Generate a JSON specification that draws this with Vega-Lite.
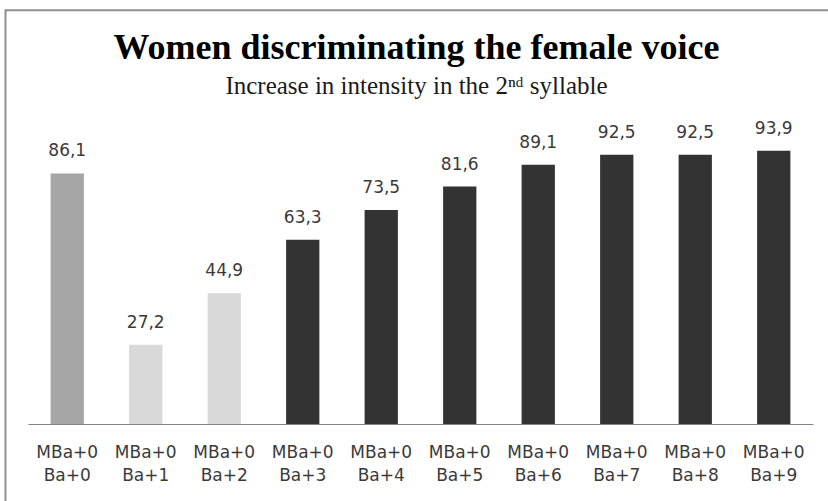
{
  "$schema": "https://vega.github.io/schema/vega-lite/v6.json",
  "width": 823,
  "height": 492,
  "autosize": {"type": "none"},
  "padding": {"left": 5, "top": 9, "right": 0, "bottom": 0},
  "background": "white",
  "title": {
    "text": "Women discriminating the female voice",
    "subtitle": "Increase in intensity in the 2ⁿᵈ syllable",
    "anchor": "middle",
    "frame": "group",
    "offset": -91,
    "font": "Liberation Serif",
    "fontSize": 36,
    "fontWeight": "bold",
    "color": "#000000",
    "subtitleFont": "Liberation Serif",
    "subtitleFontSize": 25,
    "subtitleColor": "#1a1a1a",
    "subtitlePadding": 7
  },
  "data": {
    "values": [
      {"condition": "MBa+0 Ba+0", "set": "reference", "score": 86.1},
      {"condition": "MBa+0 Ba+1", "set": "below", "score": 27.2},
      {"condition": "MBa+0 Ba+2", "set": "below", "score": 44.9},
      {"condition": "MBa+0 Ba+3", "set": "above", "score": 63.3},
      {"condition": "MBa+0 Ba+4", "set": "above", "score": 73.5},
      {"condition": "MBa+0 Ba+5", "set": "above", "score": 81.6},
      {"condition": "MBa+0 Ba+6", "set": "above", "score": 89.1},
      {"condition": "MBa+0 Ba+7", "set": "above", "score": 92.5},
      {"condition": "MBa+0 Ba+8", "set": "above", "score": 92.5},
      {"condition": "MBa+0 Ba+9", "set": "above", "score": 93.9}
    ]
  },
  "encoding": {
    "x": {
      "field": "condition",
      "type": "nominal",
      "sort": null,
      "scale": {"range": [23, 808], "paddingInner": 0.576, "paddingOuter": 0.288},
      "axis": {
        "title": null,
        "orient": "bottom",
        "offset": -77,
        "labelAngle": 0,
        "labelExpr": "split(datum.label, ' ')",
        "labelFont": "DejaVu Sans",
        "labelFontSize": 17,
        "labelColor": "#3a3a3a",
        "labelLineHeight": 23,
        "labelPadding": 20,
        "ticks": false,
        "domainColor": "#868686",
        "domainWidth": 1.2,
        "grid": false
      }
    },
    "y": {
      "field": "score",
      "type": "quantitative",
      "scale": {"domain": [-26.46, 142.6], "nice": false, "zero": false},
      "axis": {
        "title": null,
        "labels": false,
        "ticks": false,
        "grid": false,
        "domain": true,
        "domainColor": "#8e8e8e",
        "domainWidth": 2
      }
    }
  },
  "layer": [
    {
      "mark": {"type": "bar"},
      "encoding": {
        "color": {
          "field": "set",
          "type": "nominal",
          "scale": {"domain": ["reference", "below", "above"], "range": ["#a6a6a6", "#d9d9d9", "#333333"]},
          "legend": null
        }
      }
    },
    {
      "mark": {"type": "text", "baseline": "alphabetic", "dy": -17, "font": "DejaVu Sans", "fontSize": 17, "color": "#3a3a3a"},
      "encoding": {
        "text": {"field": "score", "type": "quantitative", "format": ".1f"}
      }
    },
    {
      "data": {"values": [{"edge": 142.2}]},
      "mark": {"type": "rule", "color": "#8e8e8e", "strokeWidth": 2},
      "encoding": {
        "x": null,
        "y": {"field": "edge", "type": "quantitative"}
      }
    }
  ],
  "config": {
    "view": {"stroke": null},
    "locale": {
      "number": {"decimal": ",", "thousands": ".", "grouping": [3], "currency": ["", " €"]}
    }
  }
}
